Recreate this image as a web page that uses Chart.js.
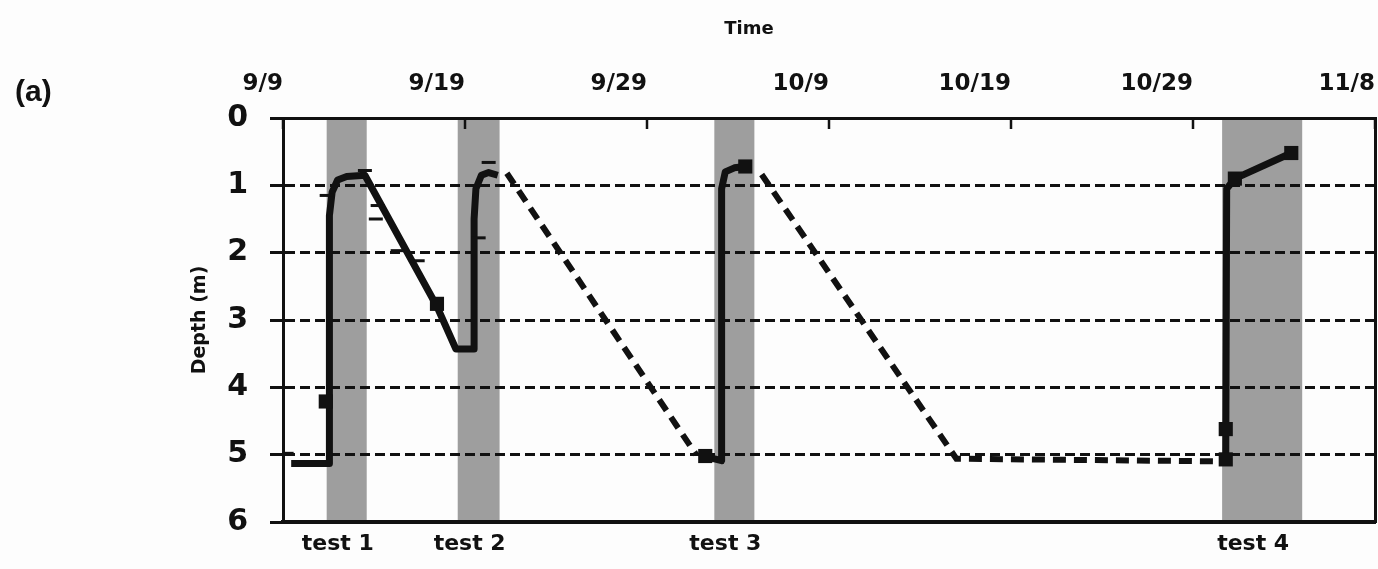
<!DOCTYPE html>
<html>
<head>
<meta charset="utf-8">
<title>Depth over time</title>
<script src="https://cdn.jsdelivr.net/npm/chart.js@4/dist/chart.umd.min.js"></script>
<style>
  html, body { margin: 0; padding: 0; background: #fdfdfd; }
  #wrap { position: relative; width: 1378px; height: 569px; }
  #panel { position: absolute; left: 15px; top: 75px; font: bold 30px "Liberation Sans", Arial, sans-serif; line-height: 32px; color: #111; }
  #timeTitle { position: absolute; left: 749px; top: 18px; transform: translateX(-50%); font: bold 18px "DejaVu Sans", sans-serif; line-height: 20px; color: #111; }
  canvas { position: absolute; left: 0; top: 0; }
</style>
</head>
<body>
<div id="wrap">
  <canvas id="chart" width="1378" height="569"></canvas>
  <div id="panel">(a)</div>
  <div id="timeTitle">Time</div>
</div>
<script>
// Time axis: days counted from 9/9
const dayTicks = [0, 10, 20, 30, 40, 50, 60];
const dateLabels = ['9/9', '9/19', '9/29', '10/9', '10/19', '10/29', '11/8'];
const depthTicks = [0, 1, 2, 3, 4, 5, 6];

// Test windows (shaded)
const testLabels = ['test 1', 'test 2', 'test 3', 'test 4'];
const testStart = [2.4, 9.6, 23.7, 51.6];
const testEnd = [4.6, 11.9, 25.9, 56.0];

// Measured depth, solid trace (null = break)
const solidDays   = [0.45, 2.55, 2.55, 2.7, 3.0, 3.5, 4.5, 8.46, 9.5, 10.5, 10.5, 10.6, 10.9, 11.3, 11.8, null,
                     23.2, 24.1, 24.1, 24.3, 24.8, 25.4, null,
                     51.8, 51.85, 52.3, 55.4];
const solidDepths = [5.13, 5.13, 1.45, 1.1, 0.92, 0.87, 0.85, 2.8, 3.43, 3.43, 1.5, 1.05, 0.85, 0.81, 0.85, null,
                     5.03, 5.09, 1.05, 0.8, 0.74, 0.72, null,
                     5.07, 1.05, 0.9, 0.52];

// Inferred depth between tests, dashed trace
const dashedDays   = [12.3, 22.7, null, 26.3, 37.0, 51.8];
const dashedDepths = [0.82, 5.0, null, 0.84, 5.06, 5.1];

// Square markers
const markerDays   = [2.35, 8.46, 23.2, 25.4, 51.8, 51.8, 52.3, 55.4];
const markerDepths = [4.21, 2.76, 5.02, 0.72, 4.62, 5.07, 0.9, 0.52];

// Dash markers
const capDays   = [0.2, 2.4, 4.5, 5.2, 5.1, 6.3, 7.4, 11.3, 10.75];
const capDepths = [4.98, 1.15, 0.78, 1.3, 1.5, 1.97, 2.12, 0.66, 1.78];

const toPoints = (xs, ys) => xs.map((x, i) => ({ x: x, y: ys[i] }));
const ink = '#111111';

Chart.defaults.font.family = '"DejaVu Sans", sans-serif';
Chart.defaults.color = ink;

// Shaded test windows, drawn under the grid
const testBands = {
  id: 'testBands',
  beforeDraw(chart) {
    const { ctx, chartArea, scales } = chart;
    ctx.save();
    ctx.fillStyle = '#9e9e9e';
    testStart.forEach((s, i) => {
      const x0 = scales.x.getPixelForValue(s);
      const x1 = scales.x.getPixelForValue(testEnd[i]);
      ctx.fillRect(x0, chartArea.top + 2, x1 - x0, chartArea.bottom - chartArea.top - 2);
    });
    ctx.restore();
  }
};

// Short tick marks hanging inside from the top axis line
const innerTicks = {
  id: 'innerTicks',
  afterDraw(chart) {
    const { ctx, chartArea, scales } = chart;
    ctx.save();
    ctx.strokeStyle = ink;
    ctx.lineWidth = 2.5;
    scales.x.ticks.forEach(t => {
      const px = Math.round(scales.x.getPixelForValue(t.value));
      ctx.beginPath();
      ctx.moveTo(px, chartArea.top);
      ctx.lineTo(px, chartArea.top + 11);
      ctx.stroke();
    });
    ctx.restore();
  }
};

// Fixed box size for an axis, without extra side padding for labels
const fixHeight = h => s => { s.height = h; s.paddingLeft = 0; s.paddingRight = 0; };

new Chart(document.getElementById('chart'), {
  type: 'line',
  data: {
    datasets: [
      {
        label: 'markers',
        data: toPoints(markerDays, markerDepths),
        showLine: false,
        pointStyle: 'rect',
        pointRadius: 10,
        pointBackgroundColor: ink,
        pointBorderColor: ink,
        pointBorderWidth: 0
      },
      {
        label: 'caps',
        data: toPoints(capDays, capDepths),
        showLine: false,
        pointStyle: 'line',
        pointRadius: 7,
        pointBorderColor: ink,
        pointBorderWidth: 3
      },
      {
        label: 'measured',
        data: toPoints(solidDays, solidDepths),
        borderColor: ink,
        borderWidth: 7,
        borderJoinStyle: 'round',
        pointRadius: 0,
        tension: 0,
        spanGaps: false
      },
      {
        label: 'inferred',
        data: toPoints(dashedDays, dashedDepths),
        borderColor: ink,
        borderWidth: 6,
        borderDash: [13, 8],
        pointRadius: 0,
        tension: 0,
        spanGaps: false
      }
    ]
  },
  options: {
    responsive: false,
    animation: false,
    devicePixelRatio: 1,
    layout: { padding: 0, autoPadding: false },
    plugins: { legend: { display: false }, tooltip: { enabled: false } },
    scales: {
      x: {
        type: 'linear',
        position: 'top',
        min: 0,
        max: 60,
        afterBuildTicks: s => { s.ticks = dayTicks.map(v => ({ value: v })); },
        afterFit: fixHeight(118),
        ticks: {
          callback: (v, i) => dateLabels[i],
          font: { size: 23, weight: 'bold' },
          padding: 20,
          align: 'end',
          maxRotation: 0,
          autoSkip: false
        },
        grid: { display: false, drawTicks: false },
        border: { display: true, color: ink, width: 3 }
      },
      x2: {
        type: 'linear',
        position: 'bottom',
        min: 0,
        max: 60,
        afterBuildTicks: s => { s.ticks = testStart.map((v, i) => ({ value: (v + testEnd[i]) / 2 })); },
        afterFit: fixHeight(47),
        ticks: {
          callback: (v, i) => testLabels[i],
          font: { size: 22, weight: 'bold' },
          padding: 9,
          labelOffset: -9,
          maxRotation: 0,
          autoSkip: false
        },
        grid: { display: false, drawTicks: false },
        border: { display: true, color: ink, width: 4 }
      },
      y: {
        type: 'linear',
        position: 'left',
        min: 0,
        max: 6,
        reverse: true,
        afterBuildTicks: s => { s.ticks = depthTicks.map(v => ({ value: v })); },
        afterFit: s => { s.width = 283; s.paddingTop = 0; s.paddingBottom = 0; },
        ticks: {
          font: { size: 30, weight: 'bold' },
          padding: 22,
          callback: v => String(v)
        },
        grid: {
          color: ink,
          lineWidth: 3,
          tickLength: 13,
          tickWidth: 3,
          tickColor: ink
        },
        border: { display: true, color: ink, width: 3, dash: [10, 5] },
        title: {
          display: true,
          text: 'Depth (m)',
          font: { size: 19, weight: 'bold' },
          padding: { top: 189, bottom: 0 }
        }
      },
      y2: {
        type: 'linear',
        position: 'right',
        min: 0,
        max: 6,
        reverse: true,
        afterFit: s => { s.width = 3; s.paddingTop = 0; s.paddingBottom = 0; },
        ticks: { display: false },
        grid: { display: false, drawTicks: false },
        border: { display: true, color: ink, width: 3 }
      }
    }
  },
  plugins: [testBands, innerTicks]
});
</script>
</body>
</html>
